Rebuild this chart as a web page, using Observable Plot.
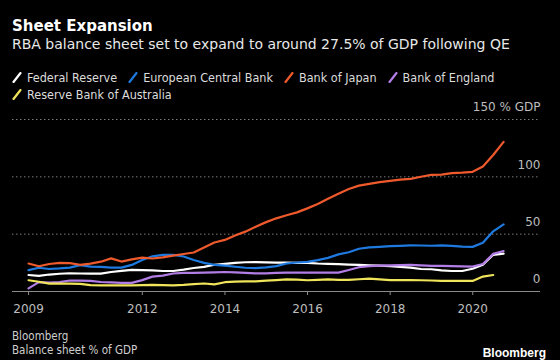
<!DOCTYPE html>
<html><head><meta charset="utf-8">
<script src="https://cdn.jsdelivr.net/npm/d3@7"></script>
<script src="https://cdn.jsdelivr.net/npm/@observablehq/plot@0.6"></script>
<style>
html,body{margin:0;padding:0;background:#000;}
body{width:560px;height:360px;overflow:hidden;position:relative;font-family:"DejaVu Sans",sans-serif;color:#fff;}
#title{position:absolute;left:12px;top:17px;font-weight:bold;font-size:15px;white-space:nowrap;}
#subtitle{position:absolute;left:12px;top:36px;font-size:14px;color:#e8e8e8;white-space:nowrap;}
.legrow{position:absolute;left:12px;font-family:"DejaVu Sans Condensed","DejaVu Sans",sans-serif;font-stretch:condensed;font-size:12.5px;color:#dcdcdc;white-space:nowrap;display:flex;align-items:center;}
.item{display:inline-flex;align-items:center;margin-right:11px;}
.item svg{margin-right:5px;}
#chart{position:absolute;left:0;top:100px;}
#src{position:absolute;left:12px;top:329px;font-family:"DejaVu Sans Condensed","DejaVu Sans",sans-serif;font-stretch:condensed;font-size:11.5px;color:#cfcfcf;line-height:14px;}
#logo{position:absolute;right:14px;top:346px;font-size:12px;font-weight:bold;color:#fff;font-family:"Liberation Sans",sans-serif;}
</style></head><body>
<div id="title">Sheet Expansion</div>
<div id="subtitle">RBA balance sheet set to expand to around 27.5% of GDP following QE</div>
<div class="legrow" id="leg1" style="top:70px"></div>
<div class="legrow" id="leg2" style="top:87px"></div>
<div id="chart"></div>
<div id="src">Bloomberg<br>Balance sheet % of GDP</div>
<div id="logo">Bloomberg</div>
<script>
// Quarter-end observations, Mar 2009 .. Sep 2020 (47 quarters)
const startQuarter = "2009-03-31";
const names = ["Federal Reserve","European Central Bank","Bank of Japan","Bank of England","Reserve Bank of Australia"];
const colors = ["#ffffff","#1f7ae0","#ee5a2c","#b37de6","#f0e45a"];

const fed = [14.4,13.7,14.8,15.5,15.9,15.7,15.6,15.6,17,18,18.8,18.7,18.4,17.9,17.9,19.1,20.5,21.5,23.3,24.1,25,25.5,25.6,25.4,25.2,25.1,25,24.9,24.4,24.1,23.8,23.5,23.2,22.9,22.5,22.2,21.4,20.8,19.6,19.4,18.5,17.9,17.9,19.8,23.3,32,33.1];
const ecb = [18.6,20.7,19.6,20.1,20.8,23,21.7,21.4,20.9,20.8,23.2,27.5,30.7,31.9,32,30.5,27.5,25,23.3,22.5,21.6,20.7,20.4,21,22.1,24.4,25.3,25.9,27.3,29.3,32.4,34.2,37.3,38.5,39,39.6,39.8,40.2,40.1,39.9,40.3,39.8,39.2,38.9,42.5,52.5,58.5];
const boj = [24.4,22,24,25,24.7,23.3,24.3,26,28.9,26.1,28,29.5,28.8,29.8,31.3,32.7,34,38.3,42.7,45,48.9,52.2,56.5,60.5,63.8,66.5,69,72.5,76.3,80.8,85.3,89.4,92.3,93.9,95.4,96.5,97.5,98.2,100.1,101.7,102,103.3,103.7,104.4,109,119,130.5];
const boe = [2.7,8.2,7.8,8.2,9.6,9.5,9.2,8.3,7.9,7.6,7.5,9.9,13,13.8,15.7,16.2,16.3,16.4,16.6,17,16.6,16.3,15.8,15.8,16.2,16.4,16.4,16.4,16.4,16.4,16.5,18.8,21.2,22,22.5,22.8,23,23.2,22.7,22.3,22.3,22.2,21.9,21.7,24,32.8,35.3];
const rba = [9.8,8.5,6.9,6.8,6.8,6.6,5.5,5.4,5.4,5.4,5.4,5.5,5.7,5.6,5.4,5.8,6.4,7,6.2,8.1,8.6,8.8,8.8,9.4,9.9,10.5,10.4,9.8,10.2,10.5,10.1,10.1,10.7,11.2,10.5,10,10,9.9,9.8,9.6,9.3,9.2,9.2,9.2,13,14.4];

const xTicks = ["2009-03-31","2012-01-01","2014-01-01","2016-01-01","2018-01-01","2020-01-01"];
const xTickLabels = ["2009","2012","2014","2016","2018","2020"];
const yTicks = [0,50,100,150];
const yTickLabels = ["0","50","100","150 % GDP"];

const seriesValues = [fed, ecb, boj, boe, rba];
const q0 = new Date(startQuarter);
const quarterDate = i => d3.utcDay.offset(d3.utcMonth.offset(new Date(Date.UTC(q0.getUTCFullYear(), q0.getUTCMonth()+1, 1)), 3*i), -1);
const data = seriesValues.flatMap((vals, s) => vals.map((v, i) => ({date: quarterDate(i), value: v, name: names[s]})));

// legend
const legItem = (n, c) => `<span class="item"><svg width="10" height="11"><line x1="1.5" y1="10" x2="8.5" y2="1" stroke="${c}" stroke-width="2.2" stroke-linecap="round"/></svg>${n}</span>`;
document.getElementById("leg1").innerHTML = names.slice(0,4).map((n,i)=>legItem(n, colors[i])).join("");
document.getElementById("leg2").innerHTML = legItem(names[4], colors[4]);

const yr = 365.25*864e5, x2009 = Date.UTC(2009,0,1);
const xLabel = new Map(xTicks.map((d,i)=>[+new Date(d), xTickLabels[i]]));
const yLabel = new Map(yTicks.map((d,i)=>[d, yTickLabels[i]]));

const chart = Plot.plot({
  width: 560, height: 222,
  marginLeft: 12, marginRight: 20, marginTop: 19, marginBottom: 31,
  style: {background: "transparent", color: "#bdbdbd", fontFamily: "DejaVu Sans, sans-serif", fontSize: "12px"},
  x: {type: "utc", domain: [new Date(x2009 - 0.145*yr), new Date(x2009 + 12.639*yr)]},
  y: {domain: [0, 150]},
  color: {domain: names, range: colors},
  marks: [
    Plot.gridY(yTicks.filter(d => d > 0), {stroke: "#7a7a7a", strokeOpacity: 1, strokeDasharray: "1.5,2.5"}),
    Plot.ruleY([0], {stroke: "#8a8a8a", strokeWidth: 1.2}),
    Plot.axisX(xTicks.map(d => new Date(d)), {tickSize: 4, tickPadding: 9, stroke: "#8a8a8a", fill: "#bdbdbd", tickFormat: d => xLabel.get(+d), label: null}),
    Plot.axisY(yTicks, {anchor: "right", tickSize: 0, tickPadding: 0, textAnchor: "end", dy: -12, fill: "#bdbdbd", tickFormat: d => yLabel.get(d), label: null}),
    Plot.lineY(data, {x: "date", y: "value", z: "name", stroke: "name", strokeWidth: 2.2, strokeLinejoin: "round", strokeLinecap: "round"})
  ]
});
document.getElementById("chart").appendChild(chart);
</script>
</body></html>
